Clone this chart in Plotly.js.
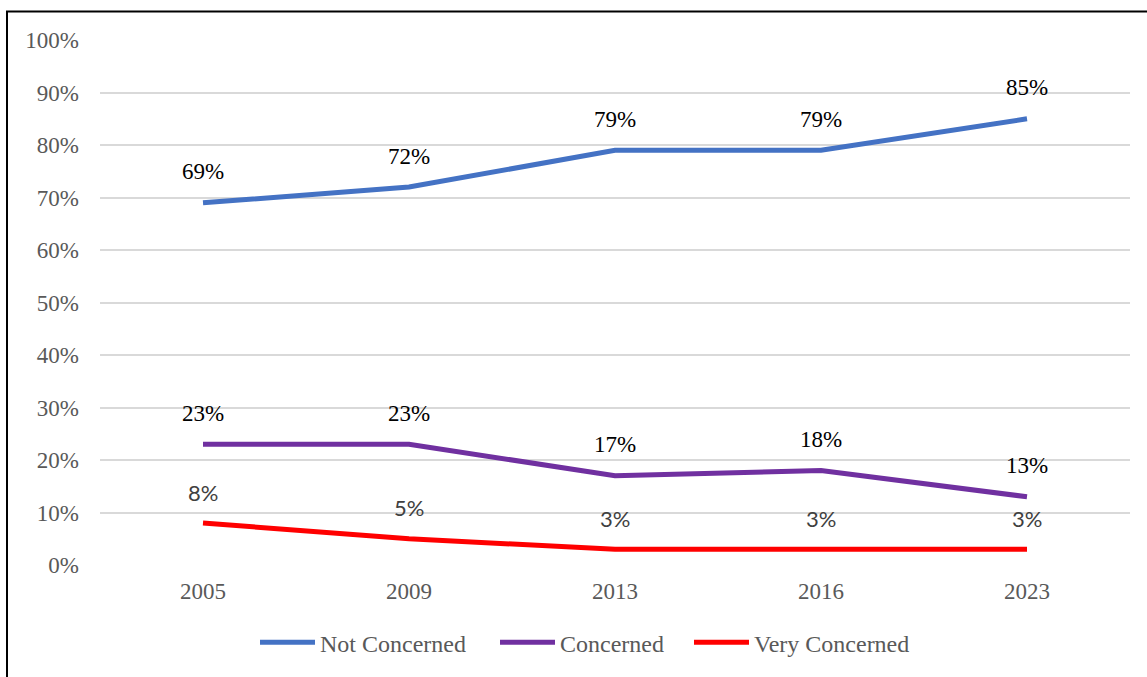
<!DOCTYPE html>
<html><head><meta charset="utf-8">
<script src="https://cdn.plot.ly/plotly-3.0.1.min.js"></script>
<style>html,body{margin:0;padding:0;background:#fff}#chart{width:1147px;height:677px}</style>
</head><body><div id="chart"></div>
<script>
const years = ['2005','2009','2013','2016','2023'];
const notConcerned = [0.69, 0.72, 0.79, 0.79, 0.85];
const concerned = [0.23, 0.23, 0.17, 0.18, 0.13];
const veryConcerned = [0.08, 0.05, 0.03, 0.03, 0.03];
const seriesNames = ['Not Concerned', 'Concerned', 'Very Concerned'];
const colors = ['#4472C4', '#7030A0', '#FF0000'];
const seriesData = [notConcerned, concerned, veryConcerned];

const serif = 'Liberation Serif, Times New Roman, serif';
const legendIds = ['legend', 'legend2', 'legend3'];
const traces = seriesData.map((vals, i) => ({
  type: 'scatter', mode: 'lines', x: years, y: vals, name: seriesNames[i],
  legend: legendIds[i],
  line: {color: colors[i], width: 5}, hoverinfo: 'skip'
}));

const annotations = [];
seriesData.forEach((vals, i) => {
  vals.forEach((v, j) => {
    annotations.push({
      x: j, y: v, xref: 'x', yref: 'y', yshift: 31, showarrow: false,
      text: Math.round(v * 100) + '%',
      font: i === 2 ? {family: 'Lato, Liberation Sans, sans-serif', size: 22, color: '#404040'}
                    : {family: serif, size: 23, color: '#000000'}
    });
  });
});

function legendAt(px) {
  return {orientation: 'h', x: (px - 100) / 1030, xanchor: 'left', y: -0.148, yanchor: 'middle',
    font: {family: serif, size: 24, color: '#595959'}, itemwidth: 55, bgcolor: 'rgba(0,0,0,0)'};
}

const layout = {
  width: 1147, height: 677,
  margin: {l: 100, r: 17, t: 40, b: 110},
  paper_bgcolor: '#fff', plot_bgcolor: '#fff',
  showlegend: true,
  legend: legendAt(255),
  legend2: legendAt(495),
  legend3: legendAt(689),
  xaxis: {type: 'category', range: [-0.5, 4.5], showgrid: false, showline: false, zeroline: false,
    ticks: '', ticklabelstandoff: 10,
    tickfont: {family: serif, size: 23, color: '#595959'}},
  yaxis: {range: [0, 1.0001], dtick: 0.1, tick0: 0, tickformat: '.0%', showgrid: true,
    gridcolor: '#d9d9d9', gridwidth: 1.5, zeroline: false, showline: false, ticks: '',
    ticklabelstandoff: 20,
    tickfont: {family: serif, size: 23, color: '#595959'}},
  annotations: annotations,
  shapes: [{type: 'rect', xref: 'paper', yref: 'paper',
    x0: (7 - 100) / 1030, x1: 1.2, y0: -0.5, y1: (567 - 11.5) / 527,
    line: {color: '#000', width: 2}, fillcolor: 'rgba(0,0,0,0)', layer: 'below'}]
};

Plotly.newPlot('chart', traces, layout, {displayModeBar: false, responsive: false});
</script></body></html>
